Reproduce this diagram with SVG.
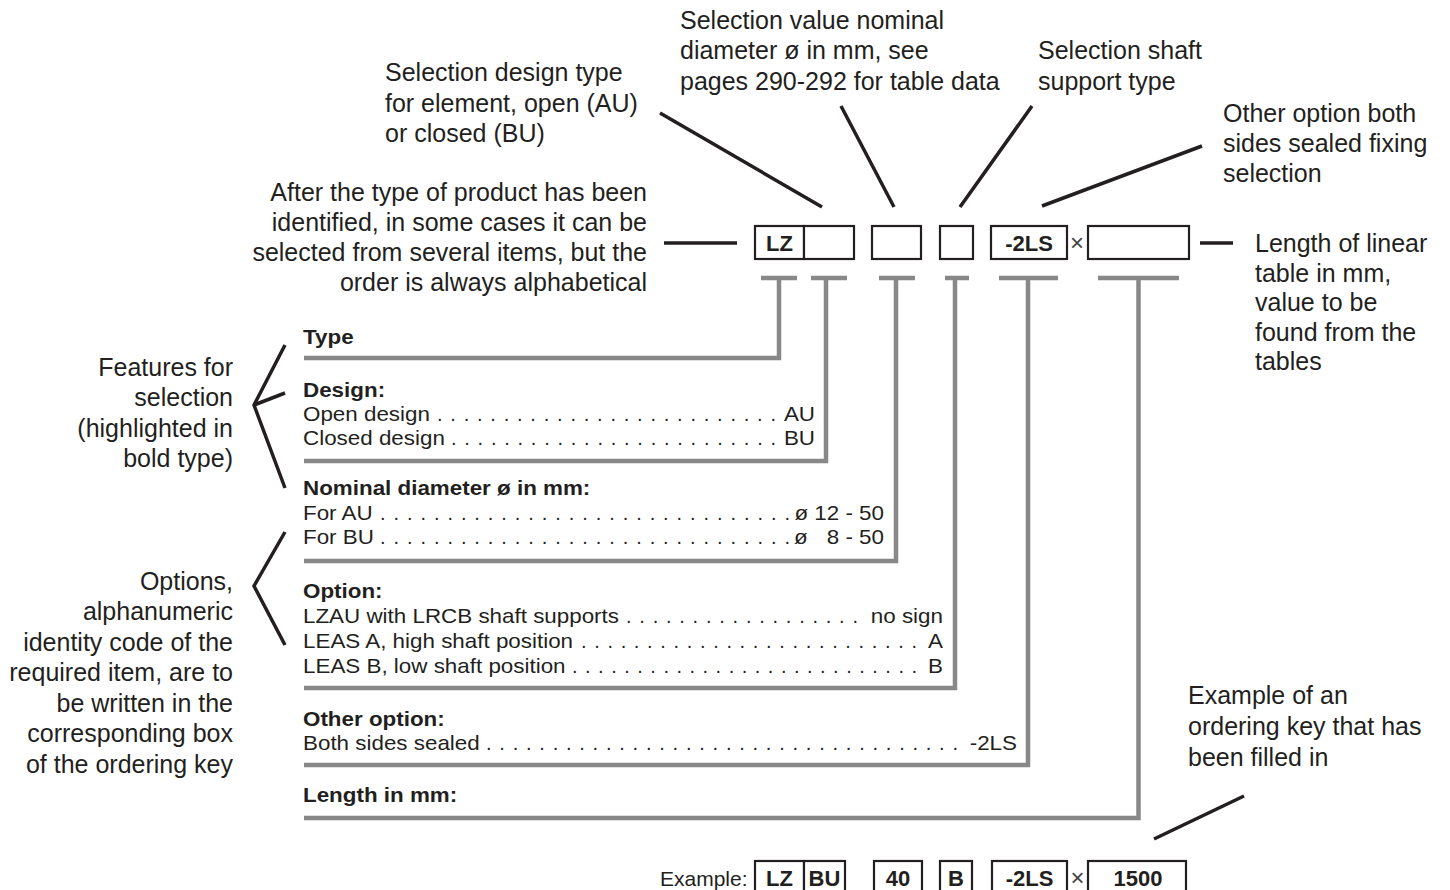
<svg xmlns="http://www.w3.org/2000/svg" width="1450" height="890" viewBox="0 0 1450 890">
<style>
text{font-family:"Liberation Sans",Arial,Helvetica,sans-serif;fill:#231f20}
.lbl{font-size:25px}
.r{text-anchor:end}
.li{font-size:20px}
.hd{font-weight:bold}
.dots{font-size:20px}
.bx{fill:#fff;stroke:#231f20;stroke-width:2.2}
.bt{font-size:22px;font-weight:bold;text-anchor:middle}
.ex{font-size:21px}
.x{font-size:24px;fill:#444;text-anchor:middle}
.ln{stroke:#231f20;stroke-width:3.5;fill:none}
.gr{stroke:#888;stroke-width:4.5;fill:none}
</style>
<rect width="1450" height="890" fill="#fff"/>

<g id="connectors">
  <line class="ln" x1="660" y1="113" x2="822" y2="207"/>
  <line class="ln" x1="841" y1="106" x2="894" y2="207"/>
  <line class="ln" x1="1032" y1="106" x2="960" y2="207"/>
  <line class="ln" x1="1042" y1="206" x2="1202" y2="146"/>
  <line class="ln" x1="664" y1="243" x2="737" y2="243"/>
  <line class="ln" x1="1200" y1="243" x2="1233" y2="243"/>
  <line class="ln" x1="1154" y1="839" x2="1244" y2="796"/>
  <polyline class="ln" points="285,345 254,405 285,488"/>
  <line class="ln" x1="254" y1="405" x2="285" y2="393"/>
  <polyline class="ln" points="285,532 254,586 285,645"/>
  <line class="gr" x1="761" y1="278" x2="797" y2="278"/>
  <polyline class="gr" points="779,278 779,358 304,358"/>
  <line class="gr" x1="811" y1="278" x2="847" y2="278"/>
  <polyline class="gr" points="826,278 826,461 304,461"/>
  <line class="gr" x1="879" y1="278" x2="915" y2="278"/>
  <polyline class="gr" points="896,278 896,561 304,561"/>
  <line class="gr" x1="945" y1="278" x2="969" y2="278"/>
  <polyline class="gr" points="955,278 955,688 304,688"/>
  <line class="gr" x1="999" y1="278" x2="1058" y2="278"/>
  <polyline class="gr" points="1028,278 1028,765 304,765"/>
  <line class="gr" x1="1098" y1="278" x2="1179" y2="278"/>
  <polyline class="gr" points="1138.5,278 1138.5,818 304,818"/>
</g>

<g id="key">
  <rect class="bx" x="755" y="226" width="49" height="33"/>
  <rect class="bx" x="804" y="226" width="50" height="33"/>
  <rect class="bx" x="872" y="226" width="49" height="33"/>
  <rect class="bx" x="940" y="226" width="33" height="33"/>
  <rect class="bx" x="991" y="226" width="76" height="33"/>
  <rect class="bx" x="1088" y="226" width="101" height="33"/>
  <text class="bt" x="779.5" y="251">LZ</text>
  <text class="bt" x="1029" y="251">-2LS</text>
  <text class="x" x="1077" y="251">×</text>
</g>

<g id="label-intro">
  <text class="lbl r" x="647" y="201">After the type of product has been</text>
  <text class="lbl r" x="647" y="231">identified, in some cases it can be</text>
  <text class="lbl r" x="647" y="261">selected from several items, but the</text>
  <text class="lbl r" x="647" y="291">order is always alphabetical</text>
</g>
<g id="label-design">
  <text class="lbl" x="385" y="81">Selection design type</text>
  <text class="lbl" x="385" y="112">for element, open (AU)</text>
  <text class="lbl" x="385" y="142">or closed (BU)</text>
</g>
<g id="label-diameter">
  <text class="lbl" x="680" y="29">Selection value nominal</text>
  <text class="lbl" x="680" y="59">diameter ø in mm, see</text>
  <text class="lbl" x="680" y="90">pages 290-292 for table data</text>
</g>
<g id="label-shaft">
  <text class="lbl" x="1038" y="59">Selection shaft</text>
  <text class="lbl" x="1038" y="90">support type</text>
</g>
<g id="label-other">
  <text class="lbl" x="1223" y="122">Other option both</text>
  <text class="lbl" x="1223" y="152">sides sealed fixing</text>
  <text class="lbl" x="1223" y="182">selection</text>
</g>
<g id="label-length">
  <text class="lbl" x="1255" y="252">Length of linear</text>
  <text class="lbl" x="1255" y="282">table in mm,</text>
  <text class="lbl" x="1255" y="311">value to be</text>
  <text class="lbl" x="1255" y="341">found from the</text>
  <text class="lbl" x="1255" y="370">tables</text>
</g>
<g id="label-features">
  <text class="lbl r" x="233" y="376">Features for</text>
  <text class="lbl r" x="233" y="406">selection</text>
  <text class="lbl r" x="233" y="437">(highlighted in</text>
  <text class="lbl r" x="233" y="467">bold type)</text>
</g>
<g id="label-options">
  <text class="lbl r" x="233" y="590">Options,</text>
  <text class="lbl r" x="233" y="620">alphanumeric</text>
  <text class="lbl r" x="233" y="651">identity code of the</text>
  <text class="lbl r" x="233" y="681">required item, are to</text>
  <text class="lbl r" x="233" y="712">be written in the</text>
  <text class="lbl r" x="233" y="742">corresponding box</text>
  <text class="lbl r" x="233" y="773">of the ordering key</text>
</g>
<g id="label-example">
  <text class="lbl" x="1188" y="704">Example of an</text>
  <text class="lbl" x="1188" y="735">ordering key that has</text>
  <text class="lbl" x="1188" y="766">been filled in</text>
</g>

<g id="list-type">
  <text class="li hd" transform="translate(303 344) scale(1.12 1)">Type</text>
</g>
<g id="list-design">
  <text class="li hd" transform="translate(303 397) scale(1.12 1)">Design:</text>
  <text class="li" transform="translate(303 421) scale(1.12 1)">Open design</text>
  <text class="dots" x="437" y="421" textLength="339" lengthAdjust="spacing">..........................</text>
  <text class="li r" transform="translate(815 421) scale(1.12 1)">AU</text>
  <text class="li" transform="translate(303 445) scale(1.12 1)">Closed design</text>
  <text class="dots" x="451" y="445" textLength="325" lengthAdjust="spacing">.........................</text>
  <text class="li r" transform="translate(815 445) scale(1.12 1)">BU</text>
</g>
<g id="list-diameter">
  <text class="li hd" transform="translate(303 495) scale(1.12 1)">Nominal diameter ø in mm:</text>
  <text class="li" transform="translate(303 520) scale(1.12 1)">For AU</text>
  <text class="dots" x="380" y="520" textLength="410" lengthAdjust="spacing">...............................</text>
  <text class="li r" transform="translate(884 520) scale(1.12 1)">ø 12 - 50</text>
  <text class="li" transform="translate(303 544) scale(1.12 1)">For BU</text>
  <text class="dots" x="380" y="544" textLength="410" lengthAdjust="spacing">...............................</text>
  <text class="li" transform="translate(794 544) scale(1.12 1)">ø</text>
  <text class="li r" transform="translate(884 544) scale(1.12 1)">8 - 50</text>
</g>
<g id="list-option">
  <text class="li hd" transform="translate(303 598) scale(1.12 1)">Option:</text>
  <text class="li" transform="translate(303 623) scale(1.12 1)">LZAU with LRCB shaft supports</text>
  <text class="dots" x="626" y="623" textLength="232" lengthAdjust="spacing">..................</text>
  <text class="li r" transform="translate(943 623) scale(1.12 1)">no sign</text>
  <text class="li" transform="translate(303 648) scale(1.12 1)">LEAS A, high shaft position</text>
  <text class="dots" x="581" y="648" textLength="336" lengthAdjust="spacing">..........................</text>
  <text class="li r" transform="translate(943 648) scale(1.12 1)">A</text>
  <text class="li" transform="translate(303 673) scale(1.12 1)">LEAS B, low shaft position</text>
  <text class="dots" x="572" y="673" textLength="345" lengthAdjust="spacing">...........................</text>
  <text class="li r" transform="translate(943 673) scale(1.12 1)">B</text>
</g>
<g id="list-other">
  <text class="li hd" transform="translate(303 726) scale(1.12 1)">Other option:</text>
  <text class="li" transform="translate(303 750) scale(1.12 1)">Both sides sealed</text>
  <text class="dots" x="486" y="750" textLength="472" lengthAdjust="spacing">....................................</text>
  <text class="li r" transform="translate(1017 750) scale(1.12 1)">-2LS</text>
</g>
<g id="list-length">
  <text class="li hd" transform="translate(303 802) scale(1.12 1)">Length in mm:</text>
</g>

<g id="example">
  <text class="ex" x="660" y="886">Example:</text>
  <rect class="bx" x="755" y="861" width="49" height="36"/>
  <rect class="bx" x="804" y="861" width="41" height="36"/>
  <rect class="bx" x="874" y="861" width="48" height="36"/>
  <rect class="bx" x="940" y="861" width="32" height="36"/>
  <rect class="bx" x="992" y="861" width="75" height="36"/>
  <rect class="bx" x="1088" y="861" width="98" height="36"/>
  <text class="bt" x="779.5" y="886">LZ</text>
  <text class="bt" x="824.5" y="886">BU</text>
  <text class="bt" x="898" y="886">40</text>
  <text class="bt" x="956" y="886">B</text>
  <text class="bt" x="1029.5" y="886">-2LS</text>
  <text class="bt" x="1138" y="886">1500</text>
  <text class="x" x="1077.5" y="886">×</text>
</g>
</svg>
